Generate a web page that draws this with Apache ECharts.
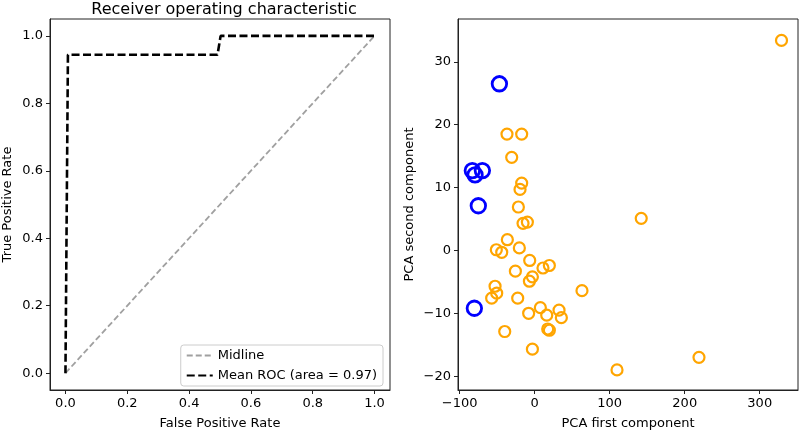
<!DOCTYPE html>
<html><head><meta charset="utf-8">
<script src="https://cdn.jsdelivr.net/npm/echarts@6/dist/echarts.min.js"></script>
<style>html,body{margin:0;padding:0;background:#fff}#c{width:800px;height:435px}</style>
</head><body><div id="c"></div>
<script>
const rocFpr = [0, 0.008, 0.492, 0.502, 1.0];
const rocTpr = [0, 0.944, 0.944, 1.0, 1.0];
const midX = [0, 1];
const midY = [0, 1];
const rocTicks = [0, 0.2, 0.4, 0.6, 0.8, 1.0];
const pcaXTicks = [-100, 0, 100, 200, 300];
const pcaYTicks = [-20, -10, 0, 10, 20, 30];
const orangeX = [329, -37, -17.4, -30.7, -17.4, -19.6, -21.8, -15.6, -9.8, 142, -36.5, -51.2, -44, -20.5, -6.7, 11, 19.5, -25.8, -3.1, -7.1, 63, -52.9, -50.7, -57.4, -22.7, 7.5, 32.4, -8.1, 16, 35.5, 17.3, 19.5, -40, -3.1, 109.7, 219];
const orangeY = [33.4, 18.5, 18.5, 14.8, 10.7, 9.7, 6.9, 4.3, 4.5, 5.1, 1.7, 0.1, -0.3, 0.4, -1.6, -2.8, -2.4, -3.3, -4.2, -4.9, -6.4, -5.7, -6.8, -7.6, -7.6, -9.1, -9.5, -10.0, -10.3, -10.7, -12.5, -12.7, -12.9, -15.7, -19.0, -17.0];
const blueX = [-47.1, -83.2, -79.6, -69.8, -75.2, -80.5];
const blueY = [26.5, 12.7, 12.0, 12.7, 7.1, -9.2];

const zip = (a, b) => a.map((v, i) => [v, b[i]]);
const fmtMinus = v => String(v).replace('-', '\u2212');
const font = 'DejaVu Sans';
const txt = {color: '#000', fontFamily: font, fontSize: 13};

function axisCfg(gi, min, max, ticks, name, gap, fmt) {
  return {
    type: 'value', gridIndex: gi, min: min, max: max,
    name: name, nameLocation: 'middle', nameGap: gap, nameTextStyle: txt,
    splitLine: {show: false},
    axisLine: {show: true, onZero: false, lineStyle: {color: '#222', width: 1}},
    axisTick: {show: true, inside: false, length: 4, lineStyle: {color: '#222'}, customValues: ticks},
    axisLabel: Object.assign({margin: 7, customValues: ticks, formatter: fmt}, txt)
  };
}

const chart = echarts.init(document.getElementById('c'), null, {renderer: 'canvas'});
chart.setOption({
  animation: false,
  backgroundColor: '#fff',
  title: {
    text: 'Receiver operating characteristic', left: 219, top: -3, textAlign: 'center',
    textStyle: {color: '#000', fontFamily: font, fontSize: 16, fontWeight: 'normal'}
  },
  legend: {
    data: ['Midline', 'Mean ROC (area = 0.97)'],
    orient: 'vertical', right: 417, bottom: 49,
    itemWidth: 26, itemHeight: 14, itemGap: 7,
    padding: [4, 6, 4, 5],
    backgroundColor: 'rgba(255,255,255,0.8)', borderColor: '#ccc', borderWidth: 1, borderRadius: 3,
    itemStyle: {opacity: 0},
    textStyle: txt
  },
  grid: [
    {left: 50, top: 19, width: 340, height: 374, show: true, borderColor: '#222', borderWidth: 1, backgroundColor: 'transparent'},
    {left: 458, top: 19, width: 340, height: 374, show: true, borderColor: '#222', borderWidth: 1, backgroundColor: 'transparent'}
  ],
  xAxis: [
    axisCfg(0, -0.05, 1.05, rocTicks, 'False Positive Rate', 27, v => v.toFixed(1)),
    axisCfg(1, -102.3, 351, pcaXTicks, 'PCA first component', 27, fmtMinus)
  ],
  yAxis: [
    axisCfg(0, -0.05, 1.05, rocTicks, 'True Positive Rate', 36, v => v.toFixed(1)),
    axisCfg(1, -22.2, 36.8, pcaYTicks, 'PCA second component', 42, fmtMinus)
  ],
  series: [
    {
      name: 'Midline', type: 'line', xAxisIndex: 0, yAxisIndex: 0,
      data: zip(midX, midY), showSymbol: false, symbol: 'none',
      lineStyle: {color: '#a0a0a0', width: 1.8, type: [6, 3]},
      itemStyle: {color: '#a0a0a0'}
    },
    {
      name: 'Mean ROC (area = 0.97)', type: 'line', xAxisIndex: 0, yAxisIndex: 0,
      data: zip(rocFpr, rocTpr), showSymbol: false, symbol: 'none',
      lineStyle: {color: '#000', width: 2.6, type: [8, 3.5]},
      itemStyle: {color: '#000'}
    },
    {
      name: 'orange', type: 'scatter', xAxisIndex: 1, yAxisIndex: 1,
      data: zip(orangeX, orangeY), symbol: 'circle', symbolSize: 11,
      itemStyle: {color: 'rgba(0,0,0,0)', borderColor: '#ffa500', borderWidth: 2.2, opacity: 1}
    },
    {
      name: 'blue', type: 'scatter', xAxisIndex: 1, yAxisIndex: 1,
      data: zip(blueX, blueY), symbol: 'circle', symbolSize: 14.5,
      itemStyle: {color: 'rgba(0,0,0,0)', borderColor: '#0000ff', borderWidth: 2.8, opacity: 1}
    }
  ]
});
</script></body></html>
